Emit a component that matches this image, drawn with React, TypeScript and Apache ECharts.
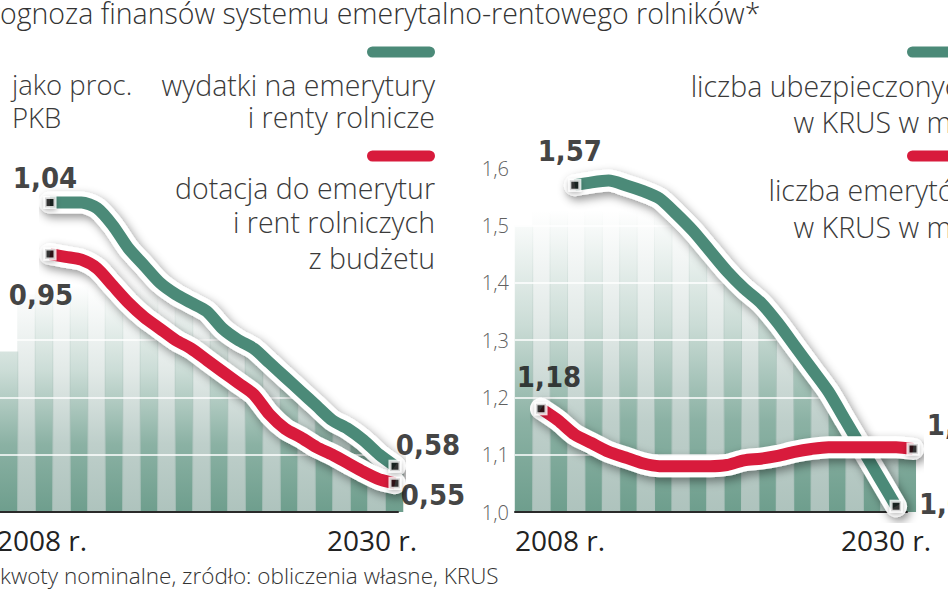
import React, { useEffect, useRef } from 'react';
import * as echarts from 'echarts';

// ---- data ----
const YEARS = ['2008', '2009', '2010', '2011', '2012', '2013', '2014', '2015', '2016', '2017', '2018', '2019',
  '2020', '2021', '2022', '2023', '2024', '2025', '2026', '2027', '2028', '2029', '2030'];

// left panel: as % of GDP
const leftSpending = [1.04, 1.04, 1.04, 1.03, 1.0, 0.96, 0.93, 0.9, 0.88, 0.865, 0.85, 0.82, 0.8, 0.785, 0.76, 0.735,
  0.71, 0.685, 0.66, 0.645, 0.625, 0.6, 0.58];
const leftSubsidy = [0.95, 0.945, 0.94, 0.925, 0.895, 0.865, 0.84, 0.82, 0.8, 0.785, 0.765, 0.745, 0.725, 0.705, 0.67,
  0.645, 0.63, 0.613, 0.6, 0.585, 0.57, 0.557, 0.55];

// right panel: millions of people
const rightInsured = [null, null, 1.57, 1.575, 1.578, 1.57, 1.56, 1.547, 1.52, 1.49, 1.455, 1.42, 1.39, 1.365, 1.33,
  1.29, 1.25, 1.21, 1.16, 1.11, 1.06, 1.01, null];
const rightPensioners = [1.18, 1.16, 1.135, 1.12, 1.105, 1.095, 1.085, 1.08, 1.08, 1.08, 1.08, 1.082, 1.09, 1.093,
  1.098, 1.105, 1.11, 1.113, 1.113, 1.113, 1.113, 1.113, 1.11];

// decorative background stripes (heights)
const STRIPES = ['s1', 's2', 's3', 's4', 's5', 's6', 's7', 's8', 's9', 's10', 's11', 's12'];
const leftDarkStripes = [0.78, 1.04, 1.04, 1.0, 0.925, 0.875, 0.83, 0.785, 0.73, 0.67, 0.63, 0.59];
const leftLightStripes = [0.88, 1.04, 1.03, 0.965, 0.895, 0.855, 0.81, 0.755, 0.7, 0.645, 0.605, null];
const rightDarkStripes = [1.5, 1.56, 1.575, 1.57, 1.545, 1.48, 1.41, 1.36, 1.28, 1.19, 1.11, 1.11];
const rightLightStripes = [1.53, 1.57, 1.578, 1.56, 1.515, 1.45, 1.385, 1.32, 1.23, 1.14, 1.113, null];

const LEFT_AXIS = { min: 0.5, max: 1.1, interval: 0.1 };
const RIGHT_AXIS = { min: 1.0, max: 1.6, interval: 0.1 };

const TITLE = 'Prognoza finansów systemu emerytalno-rentowego rolników*';
const NOTE = '*kwoty nominalne, zródło: obliczenia własne, KRUS';
const LEFT_UNIT = ['jako proc.', 'PKB'];
const LEFT_LEG_1 = ['wydatki na emerytury', 'i renty rolnicze'];
const LEFT_LEG_2 = ['dotacja do emerytur', 'i rent rolniczych', 'z budżetu'];
const RIGHT_LEG_1 = ['liczba ubezpieczonych', 'w KRUS w mln'];
const RIGHT_LEG_2 = ['liczba emerytów', 'w KRUS w mln'];

// ---- styles ----
const GREEN = '#4b8a78';
const RED = '#d81b3c';
const TEXT = '#3a3a3a';
const LIGHT_FONT = '"Open Sans", "Noto Sans", sans-serif';
const BOLD_FONT = '"DejaVu Sans Condensed", "DejaVu Sans", sans-serif';

const TOP = 168;
const H = 344;
const BASE_Y = TOP + H;

function fmt(v: number) {
  return v.toFixed(2).replace('.', ',');
}

function firstIdx(a: (number | null)[]) {
  return a.findIndex((v) => v != null);
}
function lastIdx(a: (number | null)[]) {
  for (let i = a.length - 1; i >= 0; i--) if (a[i] != null) return i;
  return -1;
}

function fade(rgb: string, topY: number) {
  return new echarts.graphic.LinearGradient(0, BASE_Y, 0, topY, [
    { offset: 0, color: `rgba(${rgb},1)` },
    { offset: 0.3, color: `rgba(${rgb},0.8)` },
    { offset: 0.62, color: `rgba(${rgb},0.36)` },
    { offset: 1, color: `rgba(${rgb},0)` },
  ], true);
}

function textW(t: string, font: string) {
  const c = document.createElement('canvas').getContext('2d');
  if (!c) return 0;
  c.font = font;
  return c.measureText(t).width;
}

export default function App() {
  const ref = useRef<HTMLDivElement>(null);

  useEffect(() => {
    if (!ref.current) return;
    const chart = echarts.init(ref.current, undefined, { renderer: 'svg', width: 948, height: 593 });

    const g = (left: number, width: number) => ({ left, width, top: TOP, height: H, outerBoundsMode: 'none', containLabel: false });
    const grids = [
      g(0, 398), // 0 left frame
      g(-8.5, 420), // 1 left dark stripes
      g(9, 420), // 2 left light stripes
      g(50, 345), // 3 left lines
      g(515, 392), // 4 right frame
      g(506.6, 417.6), // 5 right dark stripes
      g(524, 417.6), // 6 right light stripes
      g(541, 372), // 7 right lines
    ];

    const hiddenCat = (gi: number) => ({
      gridIndex: gi, type: 'category', data: STRIPES, show: false,
    });
    const hiddenY = (gi: number, ax: any) => ({
      gridIndex: gi, type: 'value', min: ax.min, max: ax.max, show: false,
    });
    const frameX = (gi: number) => ({
      gridIndex: gi, type: 'value', min: 0, max: 1, z: 2,
      axisLine: { show: true, lineStyle: { color: '#2a2a2a', width: 2 } },
      axisTick: { show: false }, axisLabel: { show: false }, splitLine: { show: false },
    });
    const frameY = (gi: number, ax: any, labels: boolean) => ({
      gridIndex: gi, type: 'value', min: ax.min, max: ax.max, interval: ax.interval, z: 2,
      axisLine: { show: false }, axisTick: { show: false },
      axisLabel: {
        show: labels, margin: 6, fontSize: 20, color: '#606060', fontFamily: LIGHT_FONT, fontWeight: 300,
        formatter: (v: number) => v.toFixed(1).replace('.', ','),
      },
      splitLine: { show: true, lineStyle: { color: '#ffffff', width: 1.5 } },
    });
    const yearLabelStyle = { fontSize: 28, color: '#222', fontFamily: LIGHT_FONT };
    const lineX = (gi: number, padS: number[], padE: number[]) => ({
      gridIndex: gi, type: 'category', data: YEARS, boundaryGap: false,
      axisLine: { show: false }, axisTick: { show: false }, splitLine: { show: false },
      axisLabel: {
        show: true, interval: 0, margin: 14, ...yearLabelStyle,
        formatter: (v: string) => (v === YEARS[0] ? `{s|${v} r.}` : v === YEARS[YEARS.length - 1] ? `{e|${v} r.}` : ''),
        rich: { s: { ...yearLabelStyle, padding: padS }, e: { ...yearLabelStyle, padding: padE } },
      },
    });

    const xAxis = [
      frameX(0), hiddenCat(1), hiddenCat(2), lineX(3, [0, 16, 0, 0], [0, 46, 0, 0]),
      frameX(4), hiddenCat(5), hiddenCat(6), lineX(7, [0, 0, 0, 38], [0, 54, 0, 0]),
    ];
    const yAxis = [
      frameY(0, LEFT_AXIS, false), hiddenY(1, LEFT_AXIS), hiddenY(2, LEFT_AXIS), hiddenY(3, LEFT_AXIS),
      frameY(4, RIGHT_AXIS, true), hiddenY(5, RIGHT_AXIS), hiddenY(6, RIGHT_AXIS), hiddenY(7, RIGHT_AXIS),
    ];

    const stripe = (gi: number, data: (number | null)[], color: any) => ({
      type: 'bar', xAxisIndex: gi, yAxisIndex: gi, data, barWidth: '53%', clip: true, silent: true, z: 1,
      itemStyle: { color },
    });

    const lineSeries = (gi: number, data: (number | null)[], color: string, z: number) => [
      {
        type: 'line', xAxisIndex: gi, yAxisIndex: gi, data, symbol: 'none', smooth: 0.25, silent: true, z,
        lineStyle: {
          color: '#ffffff', width: 22, cap: 'round', join: 'round',
          shadowBlur: 10, shadowColor: 'rgba(0,0,0,0.42)', shadowOffsetX: 3, shadowOffsetY: 4,
        },
      },
      {
        type: 'line', xAxisIndex: gi, yAxisIndex: gi, data, symbol: 'none', smooth: 0.25, silent: true, z: z + 1,
        lineStyle: { color, width: 12, cap: 'butt', join: 'round' },
      },
    ];

    const mk = (arr: (number | null)[], idx: number, off: number[]) => ({
      value: [YEARS[idx], arr[idx]],
      label: { offset: off },
    });

    const markers = (gi: number, data: any[]) => ({
      type: 'scatter', xAxisIndex: gi, yAxisIndex: gi, symbol: 'rect', symbolSize: 10, z: 10, silent: true,
      itemStyle: {
        color: '#111', borderColor: '#fff', borderWidth: 3,
        shadowBlur: 5, shadowColor: 'rgba(0,0,0,0.3)', shadowOffsetY: 2,
      },
      label: {
        show: true, position: 'inside', formatter: (p: any) => fmt(p.value[1]),
        fontSize: 29, fontWeight: 'bold', fontFamily: BOLD_FONT, color: '#111',
        align: 'center', verticalAlign: 'middle',
      },
      data,
    });

    const darkRGB = '110,158,141';
    const lightRGB = '174,195,189';

    const series: any[] = [
      stripe(1, leftDarkStripes, fade(darkRGB, 285)),
      stripe(2, leftLightStripes, fade(lightRGB, 285)),
      stripe(5, rightDarkStripes, fade(darkRGB, 210)),
      stripe(6, rightLightStripes, fade(lightRGB, 210)),
      ...lineSeries(3, leftSpending, GREEN, 4),
      ...lineSeries(3, leftSubsidy, RED, 6),
      ...lineSeries(7, rightInsured, GREEN, 4),
      ...lineSeries(7, rightPensioners, RED, 6),
      markers(3, [
        mk(leftSpending, firstIdx(leftSpending), [-5, -24]),
        mk(leftSubsidy, firstIdx(leftSubsidy), [-9, 41]),
        mk(leftSpending, lastIdx(leftSpending), [33, -21]),
        mk(leftSubsidy, lastIdx(leftSubsidy), [38, 12]),
      ]),
      markers(7, [
        mk(rightInsured, firstIdx(rightInsured), [-5, -34]),
        mk(rightPensioners, firstIdx(rightPensioners), [8, -32]),
        mk(rightPensioners, lastIdx(rightPensioners), [46, -24]),
        mk(rightInsured, lastIdx(rightInsured), [55, -2]),
      ]),
    ];

    const titleFont = `300 28.5px ${LIGHT_FONT}`;
    const noteFont = `300 22.5px ${LIGHT_FONT}`;
    const prW = textW('Pr', titleFont);
    const starW = textW('*', noteFont);

    const txt = (x: number, y: number, t: string, align: string, size = 28.5, color = TEXT) => ({
      type: 'text', x, y, silent: true, z: 50,
      style: {
        text: t, fill: color, font: `300 ${size}px ${LIGHT_FONT}`, textAlign: align, textVerticalAlign: 'middle',
      },
    });
    const legBar = (x: number, y: number, color: string) => ({
      type: 'rect', z: 50, shape: { x, y: y - 5.5, width: 68, height: 11, r: 5.5 }, style: { fill: color }, silent: true,
    });

    const graphic = [
      txt(-prW, 13, TITLE, 'left', 28.5, '#333'),
      txt(12, 84, LEFT_UNIT[0], 'left', 27.5),
      txt(12, 117, LEFT_UNIT[1], 'left', 27.5),
      legBar(367, 52, GREEN),
      txt(435, 85, LEFT_LEG_1[0], 'right'),
      txt(435, 117, LEFT_LEG_1[1], 'right'),
      legBar(367, 156, RED),
      txt(435, 188, LEFT_LEG_2[0], 'right'),
      txt(435, 222, LEFT_LEG_2[1], 'right'),
      txt(435, 258, LEFT_LEG_2[2], 'right'),
      legBar(907, 52, GREEN),
      txt(975, 86, RIGHT_LEG_1[0], 'right'),
      txt(975, 122, RIGHT_LEG_1[1], 'right'),
      legBar(907, 156, RED),
      txt(975, 190, RIGHT_LEG_2[0], 'right'),
      txt(975, 227, RIGHT_LEG_2[1], 'right'),
      txt(-starW, 575, NOTE, 'left', 22.5, '#333'),
    ];

    chart.setOption({
      animation: false,
      backgroundColor: '#ffffff',
      grid: grids,
      xAxis,
      yAxis,
      series,
      graphic,
    } as any);

    return () => chart.dispose();
  }, []);

  return (
    <div
      ref={ref}
      style={{ position: 'absolute', left: 0, top: 0, width: 948, height: 593, background: '#fff' }}
    />
  );
}
